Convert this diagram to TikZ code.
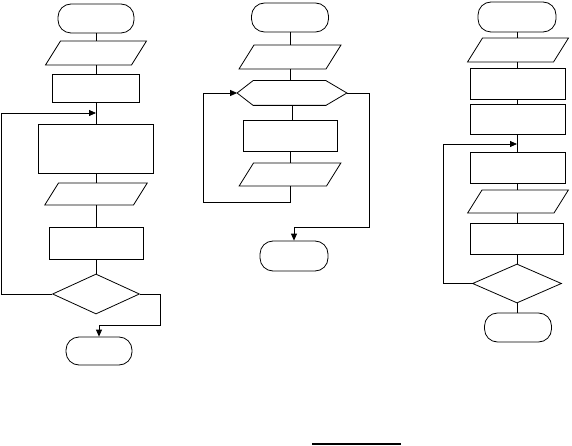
\documentclass[tikz,border=0pt]{standalone}
\usepackage{tikz}
\usetikzlibrary{shapes.geometric,arrows.meta}

\begin{document}
\begin{tikzpicture}[x=1pt, y=-1pt, line width=0.8pt,
  term/.style={draw, rectangle, rounded corners=13pt, minimum width=76pt,
    minimum height=29pt, inner sep=0pt},
  io/.style={draw, trapezium, trapezium left angle=58, trapezium right angle=122,
    minimum width=0pt, minimum height=0pt, inner xsep=35.5pt, inner ysep=12pt},
  proc/.style={draw, rectangle, minimum width=94pt, minimum height=31pt, inner sep=0pt},
  dec/.style={draw, diamond, minimum width=87pt, minimum height=40pt, inner sep=0pt},
  flow/.style={-{Triangle[length=7pt,width=6pt]}}]
\useasboundingbox (0,0) rectangle (572,446);
% left chart
\node[term] (s1) at (96,18.5) {};
\node[io] (in1) at (96,53) {};
\node[proc, minimum width=87pt, minimum height=28pt] (r1) at (96,88) {};
\node[proc, minimum width=115pt, minimum height=49pt] (r2) at (96,148.5) {};
\node[io, inner xsep=37.5pt, inner ysep=11pt] (out1) at (96,194) {};
\node[proc, minimum height=32pt] (r3) at (96,243) {};
\node[dec] (d1) at (96,294) {};
\node[term, minimum width=66pt, minimum height=28pt] (e1) at (99,351) {};
\coordinate (j1) at (96,113);
\foreach \src/\dst in {s1/in1, in1/r1, r1/r2, r2/out1, out1/r3, r3/d1} {
  \draw (\src) -- (\dst);}
\draw[flow] (d1.west) -- ++(-51,0) |- (j1);
\draw[flow] (d1.east) -- ++(20,0) -- ++(0,31) -| (e1.north);
% middle chart
\node[term, minimum width=77pt] (s2) at (290,17.5) {};
\node[io, inner xsep=36pt] (in2) at (290,57) {};
\node[minimum width=109pt, minimum height=24pt, inner sep=0pt] (h2) at (292,93) {};
\draw (h2.west) -- ([xshift=16pt]h2.north west) -- ([xshift=-21pt]h2.north east)
  -- (h2.east) -- ([xshift=-21pt]h2.south east) -- ([xshift=16pt]h2.south west) -- cycle;
\node[proc] (r4) at (290,135.5) {};
\node[io, inner xsep=36.5pt, inner ysep=11.5pt] (out2) at (290,174.5) {};
\node[term, minimum width=68pt, minimum height=30pt] (e2) at (294,256) {};
\foreach \src/\dst in {s2/in2, in2/h2, h2/r4, r4/out2} {
  \draw (\src) -- (\src |- \dst.north);}
\draw[flow] (out2.south) -- ++(0,16) -| ([xshift=-34pt]h2.west) -- (h2.west);
\draw[flow] (h2.east) -- ++(22,0) -- ++(0,134) -| (e2.north);
% right chart
\node[term, minimum width=78pt, minimum height=30pt] (s3) at (517,17) {};
\node[io] (in3) at (518,50) {};
\node[proc, minimum width=95pt] (r5) at (518,83.5) {};
\node[proc, minimum width=95pt, minimum height=30pt] (r6) at (518,119) {};
\node[proc, minimum width=95pt] (r7) at (518,167.5) {};
\node[io, inner xsep=36pt, inner ysep=11.5pt] (out3) at (518,201.5) {};
\node[proc, minimum width=93pt] (r8) at (517,238.5) {};
\node[dec, minimum width=89pt, minimum height=39pt] (d3) at (517,283.5) {};
\node[term, minimum width=67pt] (e3) at (518,327.5) {};
\coordinate (j3) at (517,144);
\foreach \src/\dst in {s3/in3, in3/r5, r5/r6, r6/r7, r7/out3, out3/r8, r8/d3, d3/e3} {
  \draw (s3 |- \src.south) -- (s3 |- \dst.north);}
\draw[flow] (d3.west) -- ++(-28.5,0) |- (j3);
% stray rule at the bottom
\coordinate (u1) at (312,444);
\coordinate (u2) at (401,444);
\draw[line width=1.6pt] (u1) -- (u2);
\end{tikzpicture}
\end{document}
